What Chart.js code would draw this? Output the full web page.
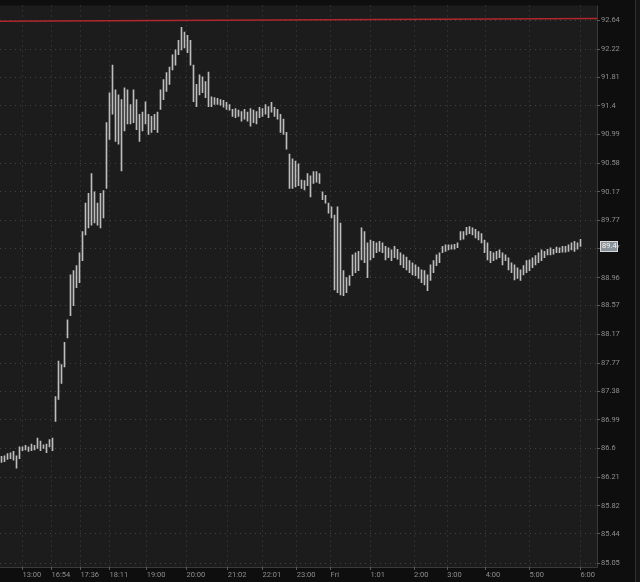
<!DOCTYPE html>
<html>
<head>
<meta charset="utf-8">
<script src="https://cdn.jsdelivr.net/npm/chart.js@4.4.1/dist/chart.umd.min.js"></script>
<style>
  html, body { margin: 0; padding: 0; background: #0e0e0e; }
  #wrap { width: 640px; height: 582px; }
</style>
</head>
<body>
<div id="wrap"><canvas id="chPrice"></canvas></div>
<script>
// bar data, one entry per bar (highs / lows)
const barHigh = [
  86.49, 86.50, 86.53, 86.54, 86.56, 86.50, 86.62, 86.62, 86.64, 86.62, 86.66, 86.64, 86.74, 86.70, 86.65, 86.66, 86.72, 86.74,
  87.31, 87.80, 87.75, 88.06, 88.37, 89.00, 89.06, 89.13, 89.31, 89.61, 90.01, 90.15, 90.43, 90.17, 90.01, 90.15, 90.19,
  91.16, 91.59, 91.99, 91.63, 91.56, 91.49, 91.66, 91.63, 91.42, 91.63, 91.49, 91.28, 91.31, 91.46, 91.28, 91.25, 91.28, 91.31,
  91.63, 91.78, 91.88, 91.96, 92.14, 92.21, 92.35, 92.54, 92.47, 92.42, 92.35, 91.99, 91.71, 91.85, 91.82, 91.75, 91.89,
  91.53, 91.52, 91.51, 91.49, 91.48, 91.45, 91.42, 91.35, 91.36, 91.34, 91.32, 91.35, 91.31, 91.36, 91.34, 91.32, 91.38, 91.36, 91.42, 91.39, 91.45, 91.38, 91.35,
  91.28, 91.21, 91.02, 90.71, 90.64, 90.61, 90.57, 90.34, 90.33, 90.43, 90.40, 90.46, 90.46, 90.43, 90.17, 90.12, 90.01, 89.96,
  89.84, 89.96, 89.73, 89.06, 88.96, 88.99, 89.28, 89.31, 89.33, 89.66, 89.61, 89.45, 89.49, 89.47, 89.45, 89.47, 89.45, 89.40, 89.38, 89.35,
  89.40, 89.36, 89.31, 89.28, 89.25, 89.20, 89.17, 89.14, 89.11, 89.07, 89.06, 89.00, 89.14, 89.20, 89.28, 89.31, 89.40, 89.42, 89.42, 89.42, 89.43, 89.45,
  89.61, 89.61, 89.67, 89.68, 89.66, 89.64, 89.61, 89.58, 89.49, 89.45, 89.33, 89.31, 89.33, 89.35, 89.31, 89.28, 89.24, 89.17, 89.14, 89.10,
  89.07, 89.13, 89.20, 89.21, 89.24, 89.27, 89.31, 89.35, 89.33, 89.36, 89.38, 89.36, 89.39, 89.38, 89.40, 89.40, 89.42, 89.45, 89.47, 89.45, 89.50
];
const barLow = [
  86.41, 86.42, 86.45, 86.46, 86.44, 86.33, 86.46, 86.57, 86.58, 86.56, 86.57, 86.58, 86.60, 86.57, 86.60, 86.54, 86.62, 86.57,
  86.97, 87.27, 87.49, 87.72, 88.12, 88.43, 88.57, 88.82, 88.89, 89.20, 89.56, 89.66, 89.70, 89.73, 89.70, 89.66, 89.80,
  90.22, 90.92, 91.28, 90.89, 90.85, 90.47, 91.04, 91.14, 91.14, 91.16, 91.06, 90.89, 91.04, 91.14, 90.99, 91.02, 91.06, 91.02,
  91.35, 91.49, 91.61, 91.71, 91.92, 91.99, 92.14, 92.21, 92.24, 92.17, 91.99, 91.46, 91.39, 91.56, 91.59, 91.52, 91.39,
  91.39, 91.42, 91.42, 91.41, 91.38, 91.35, 91.34, 91.25, 91.23, 91.25, 91.18, 91.21, 91.18, 91.11, 91.16, 91.14, 91.23, 91.25, 91.28, 91.23, 91.31, 91.25, 91.21,
  91.02, 90.99, 90.78, 90.22, 90.22, 90.24, 90.26, 90.22, 90.20, 90.26, 90.10, 90.29, 90.31, 90.29, 90.06, 90.01, 89.87, 89.80,
  88.79, 88.75, 88.72, 88.71, 88.75, 88.85, 88.99, 89.03, 89.06, 89.21, 89.17, 88.96, 89.21, 89.24, 89.31, 89.33, 89.31, 89.21, 89.24, 89.20,
  89.24, 89.22, 89.14, 89.10, 89.07, 89.03, 89.00, 88.99, 88.95, 88.89, 88.86, 88.78, 88.92, 89.03, 89.13, 89.17, 89.31, 89.33, 89.35, 89.36, 89.36, 89.38,
  89.49, 89.50, 89.56, 89.58, 89.56, 89.52, 89.49, 89.45, 89.31, 89.21, 89.17, 89.20, 89.22, 89.24, 89.14, 89.20, 89.07, 89.03, 88.93, 88.95,
  88.92, 89.00, 89.03, 89.06, 89.10, 89.14, 89.17, 89.20, 89.24, 89.28, 89.28, 89.29, 89.31, 89.31, 89.32, 89.32, 89.33, 89.35, 89.33, 89.36, 89.40
];

// session labels on the time axis (bar index where each label sits)
const xTickPos = [7, 16.7, 26.3, 36, 48.4, 61.7, 75.4, 87, 98.4, 109.7, 123, 137.5, 148.6, 161.4, 176, 193];
const xTickLabels = ['13:00', '16:54', '17:36', '18:11', '19:00', '20:00', '21:02', '22:01', '23:00', 'Fri', '1:01', '2:00', '3:00', '4:00', '5:00', '6:00'];

const yTickValues = [92.64, 92.22, 91.81, 91.4, 90.99, 90.58, 90.17, 89.77, 89.37, 88.96,
  88.57, 88.17, 87.77, 87.38, 86.99, 86.6, 86.21, 85.82, 85.44, 85.05];

const levelLine = [92.626, 92.668]; // red line, left / right end
const lastPrice = 89.4;

const NBARS = 199;
const bgOuter = '#0e0e0e';
const bgPlot = '#1c1c1c';
const gridColor = '#434343';
const textColor = '#8e8e8e';
const tickFont = { family: 'Roboto', size: 7.5 };

const bgPlugin = {
  id: 'bg',
  beforeDraw(chart) {
    const { ctx, chartArea: a } = chart;
    ctx.save();
    ctx.fillStyle = bgOuter;
    ctx.fillRect(0, 0, chart.width, chart.height);
    ctx.fillStyle = bgPlot;
    ctx.fillRect(a.left, a.top, a.right - a.left, a.bottom - a.top);
    ctx.fillStyle = '#26313a';
    ctx.fillRect(635, 0, 1, chart.height);
    ctx.fillStyle = '#151515';
    ctx.fillRect(636, 0, 4, chart.height);
    ctx.strokeStyle = '#3a3a3a';
    ctx.lineWidth = 1;
    ctx.beginPath();
    ctx.moveTo(a.right + 0.5, a.top);
    ctx.lineTo(a.right + 0.5, a.bottom + 0.5);
    ctx.lineTo(a.left, a.bottom + 0.5);
    ctx.stroke();
    ctx.restore();
  },
  afterDraw(chart) {
    const { ctx, chartArea: a } = chart;
    const y = Math.round(chart.scales.y.getPixelForValue(lastPrice));
    ctx.save();
    ctx.fillStyle = '#8a9299';
    ctx.strokeStyle = '#d8d8d8';
    ctx.lineWidth = 1;
    ctx.fillRect(a.right + 3, y - 5, 18, 11);
    ctx.strokeRect(a.right + 3.5, y - 4.5, 17, 10);
    ctx.fillStyle = '#f2f2f2';
    ctx.font = '7.5px Roboto';
    ctx.textBaseline = 'middle';
    ctx.fillText(String(lastPrice), a.right + 5, y + 0.5);
    ctx.restore();
  }
};

new Chart(document.getElementById('chPrice'), {
  type: 'bar',
  data: {
    datasets: [
      {
        type: 'bar',
        data: barHigh.map((h, i) => ({ x: i, y: [barLow[i], h] })),
        backgroundColor: '#bdbdbd',
        barThickness: 1,
        grouped: false
      },
      {
        type: 'line',
        data: [{ x: -0.5, y: levelLine[0] }, { x: NBARS - 0.5, y: levelLine[1] }],
        borderColor: '#b0282c',
        borderWidth: 1.5,
        pointRadius: 0
      }
    ]
  },
  options: {
    responsive: true, maintainAspectRatio: false, animation: false,
    layout: { padding: 0 },
    plugins: { legend: { display: false }, tooltip: { enabled: false } },
    scales: {
      x: {
        type: 'linear', position: 'bottom', min: -0.5, max: NBARS - 0.5, offset: false,
        afterBuildTicks: s => { s.ticks = xTickPos.map(v => ({ value: v })); },
        afterFit: s => { s.height = 15; },
        ticks: { callback: (v, i) => xTickLabels[i], align: 'start', autoSkip: false, maxRotation: 0, padding: 1, color: textColor, font: tickFont },
        grid: { color: gridColor, tickColor: '#5a5a5a', tickLength: 3, offset: false },
        border: { display: false, dash: [1, 4] }
      },
      y: {
        type: 'logarithmic', position: 'right', min: 84.997, max: 92.857,
        afterBuildTicks: s => { s.ticks = yTickValues.map(v => ({ value: v })); },
        afterFit: s => { s.width = 43; },
        ticks: { callback: v => String(v), padding: 1, color: textColor, font: tickFont },
        grid: { color: gridColor, tickColor: '#5a5a5a', tickLength: 3 },
        border: { display: false, dash: [1, 4] }
      }
    }
  },
  plugins: [bgPlugin]
});
</script>
</body>
</html>
